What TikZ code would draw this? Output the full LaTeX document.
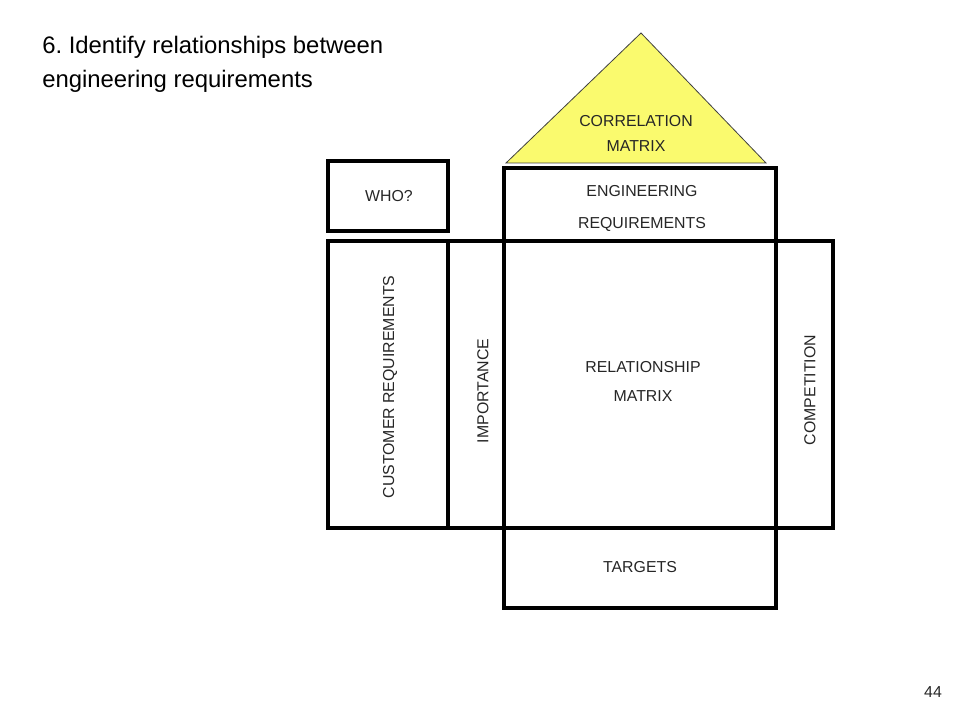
\documentclass[tikz,border=0pt]{standalone}
\usepackage{fontspec}
\setmainfont{Liberation Sans}
\frenchspacing
\begin{document}
\begin{tikzpicture}[x=0.75pt,y=-0.75pt,
  box/.style={draw=black,line width=2.3pt,inner sep=0pt},
  lbl/.style={font=\fontsize{11.9}{14}\selectfont,text=black!85,inner sep=0pt},
  title/.style={font=\fontsize{17.9}{21}\selectfont,anchor=base west,inner sep=0pt}]
\useasboundingbox (0,0) rectangle (960,720);
\definecolor{yel}{RGB}{250,250,110}
% correlation triangle
\draw[fill=yel,draw=black!75,line width=0.6pt] (641,33) coordinate (apex) -- (766,163) coordinate (br) -- (506,163) coordinate (bl) -- cycle;
% boxes
\draw[box] (504,168) rectangle (776,241);
\draw[box] (328,161) rectangle (448,231);
\draw[box] (328,241) rectangle (833,528);
\draw[box] (448,241) -- (448,528);
\draw[box] (504,241) -- (504,528);
\draw[box] (776,241) -- (776,528);
\draw[box] (504,528) rectangle (776,608);
% titles
\node[title] (t1) at (42,54) {6. Identify relationships between};
\node[title] (t2) at (42,88) {engineering requirements};
% labels
\node[lbl] (c1) at (636,121) {CORRELATION};
\node[lbl] (c2) at (636,146) {MATRIX};
\node[lbl] (who) at (389,196) {WHO?};
\node[lbl] (e1) at (642,191) {ENGINEERING};
\node[lbl] (e2) at (642,224) {REQUIREMENTS};
\node[lbl,rotate=90] (cr) at (390,387) {CUSTOMER REQUIREMENTS};
\node[lbl,rotate=90] (imp) at (483,391) {IMPORTANCE};
\node[lbl] (r1) at (643,367) {RELATIONSHIP};
\node[lbl] (r2) at (643,396) {MATRIX};
\node[lbl,rotate=90] (comp) at (810,390) {COMPETITION};
\node[lbl] (tg) at (640,567) {TARGETS};
\node[lbl] (pg) at (933,692) {44};
\end{tikzpicture}
\end{document}
